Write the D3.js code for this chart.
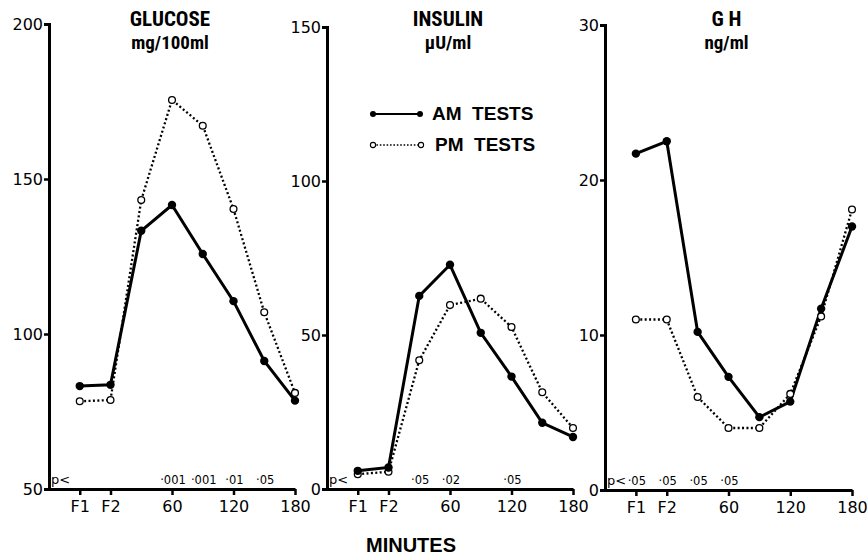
<!DOCTYPE html>
<html>
<head>
<meta charset="utf-8">
<script src="https://cdn.jsdelivr.net/npm/d3@7"></script>
<style>
body { margin: 0; background: #fff; }
svg { display: block; }
.tick text { font-family: "DejaVu Sans", sans-serif; font-size: 16px; fill: #000; }
.title { font-family: "Liberation Sans Narrow", "Roboto Condensed", "DejaVu Sans Condensed", "Liberation Sans", sans-serif; font-weight: bold; font-size: 21px; text-anchor: middle; }
.unit { font-family: "Liberation Sans Narrow", "Roboto Condensed", "DejaVu Sans Condensed", "Liberation Sans", sans-serif; font-weight: bold; font-size: 19px; text-anchor: middle; }
.legend { font-family: "Liberation Sans", sans-serif; font-weight: bold; font-size: 19px; white-space: pre; }
.pval { font-family: "DejaVu Sans", sans-serif; font-size: 11.5px; }
.plabel { font-family: "DejaVu Sans", sans-serif; font-size: 13px; }
.minutes { font-family: "Liberation Sans", sans-serif; font-weight: bold; font-size: 20px; text-anchor: middle; }
</style>
</head>
<body>
<svg id="chart" width="867" height="558"></svg>
<script>
// sampling times in minutes, F1 = -30, F2 = 0
var times = [-30, 0, 30, 60, 90, 120, 150, 180];
var xTickValues = [-30, 0, 60, 120, 180];
var xTickLabels = ["F1", "F2", "60", "120", "180"];

var glucoseAM = [83.2, 83.6, 133.3, 141.6, 125.8, 110.6, 91.3, 78.5];
var glucosePM = [78.3, 78.7, 143.2, 175.5, 167.2, 140.3, 107, 81];
var insulinAM = [5.9, 7.0, 62.7, 72.8, 50.7, 36.5, 21.5, 16.9];
var insulinPM = [4.8, 5.6, 41.8, 59.7, 61.8, 52.6, 31.4, 19.8];
var ghAM = [21.7, 22.5, 10.2, 7.3, 4.7, 5.7, 11.7, 17.0];
var ghPM = [11.0, 11.0, 6.0, 4.0, 4.0, 6.2, 11.2, 18.1];

var glucoseTicks = [50, 100, 150, 200];
var insulinTicks = [0, 50, 100, 150];
var ghTicks = [0, 10, 20, 30];

// p values, by time point
var glucoseP = [[60, "·001"], [90, "·001"], [120, "·01"], [150, "·05"]];
var insulinP = [[30, "·05"], [60, "·02"], [120, "·05"]];
var ghP = [[-30, "·05"], [0, "·05"], [30, "·05"], [60, "·05"]];

var panels = [
    {title: "GLUCOSE", unit: "mg/100ml", am: glucoseAM, pm: glucosePM, ticks: glucoseTicks, p: glucoseP, left: 49, right: 295, top: 24, bottom: 489},
    {title: "INSULIN", unit: "µU/ml", am: insulinAM, pm: insulinPM, ticks: insulinTicks, p: insulinP, left: 327, right: 573, top: 27, bottom: 489},
    {title: "G H", unit: "ng/ml", am: ghAM, pm: ghPM, ticks: ghTicks, p: ghP, left: 605, right: 852, top: 25, bottom: 490}
];

var svg = d3.select("#chart");

panels.forEach(function(pn) {
    var x = d3.scaleLinear().domain([-60, 180]).range([pn.left, pn.right]);
    var y = d3.scaleLinear().domain([pn.ticks[0], pn.ticks[pn.ticks.length - 1]]).range([pn.bottom, pn.top]);
    var g = svg.append("g");

    var yAxis = g.append("g")
        .attr("transform", "translate(" + pn.left + ",0)")
        .call(d3.axisLeft(y).tickValues(pn.ticks).tickSize(5).tickPadding(1).tickFormat(d3.format("d")));
    var xAxis = g.append("g")
        .attr("transform", "translate(0," + pn.bottom + ")")
        .call(d3.axisBottom(x).tickValues(xTickValues).tickSize(6).tickSizeOuter(0).tickPadding(6)
            .tickFormat(function(d, i) { return xTickLabels[i]; }));
    [yAxis, xAxis].forEach(function(a) {
        a.select(".domain").attr("stroke", "#000").attr("stroke-width", 3);
        a.selectAll(".tick line").attr("stroke", "#000").attr("stroke-width", 2.5);
    });
    yAxis.selectAll(".tick text").attr("dy", "0.36em");

    var line = d3.line()
        .x(function(d, i) { return x(times[i]); })
        .y(function(d) { return y(d); });

    g.append("path")
        .attr("d", line(pn.pm))
        .attr("fill", "none")
        .attr("stroke", "#000")
        .attr("stroke-width", 2.3)
        .attr("stroke-dasharray", "2,2.4");
    g.append("path")
        .attr("d", line(pn.am))
        .attr("fill", "none")
        .attr("stroke", "#000")
        .attr("stroke-width", 3);

    g.selectAll(".pm").data(pn.pm).enter().append("circle")
        .attr("cx", function(d, i) { return x(times[i]); })
        .attr("cy", function(d) { return y(d); })
        .attr("r", 3.4)
        .attr("fill", "#fff")
        .attr("stroke", "#000")
        .attr("stroke-width", 1.3);
    g.selectAll(".am").data(pn.am).enter().append("circle")
        .attr("cx", function(d, i) { return x(times[i]); })
        .attr("cy", function(d) { return y(d); })
        .attr("r", 4.2)
        .attr("fill", "#000");

    var mid = (pn.left + pn.right) / 2;
    g.append("text").attr("class", "title").attr("x", mid - 2).attr("y", 26).text(pn.title);
    g.append("text").attr("class", "unit").attr("x", mid - 2).attr("y", 49).text(pn.unit);

    g.append("text").attr("class", "plabel")
        .attr("x", pn.left + 2).attr("y", pn.bottom - 5)
        .text("p<");
    g.selectAll(".pv").data(pn.p).enter().append("text")
        .attr("class", "pval")
        .attr("x", function(d) { return x(d[0]) + 1; })
        .attr("y", pn.bottom - 5)
        .attr("text-anchor", "middle")
        .text(function(d) { return d[1]; });
});

// legend
var legend = svg.append("g");
legend.append("line").attr("x1", 373).attr("x2", 420).attr("y1", 114).attr("y2", 114)
    .attr("stroke", "#000").attr("stroke-width", 2.2);
legend.append("line").attr("x1", 373).attr("x2", 421).attr("y1", 145).attr("y2", 145)
    .attr("stroke", "#000").attr("stroke-width", 1.6).attr("stroke-dasharray", "1.6,1.8");
[373, 420].forEach(function(cx) {
    legend.append("circle").attr("cx", cx).attr("cy", 114).attr("r", 3).attr("fill", "#000");
});
[373, 421].forEach(function(cx) {
    legend.append("circle").attr("cx", cx).attr("cy", 145).attr("r", 2.6)
        .attr("fill", "#fff").attr("stroke", "#000").attr("stroke-width", 1.1);
});
legend.append("text").attr("class", "legend").attr("x", 432).attr("y", 120).text("AM  TESTS");
legend.append("text").attr("class", "legend").attr("x", 435).attr("y", 151).text("PM  TESTS");

svg.append("text").attr("class", "minutes")
    .attr("x", 411).attr("y", 552)
    .text("MINUTES");
</script>
</body>
</html>
